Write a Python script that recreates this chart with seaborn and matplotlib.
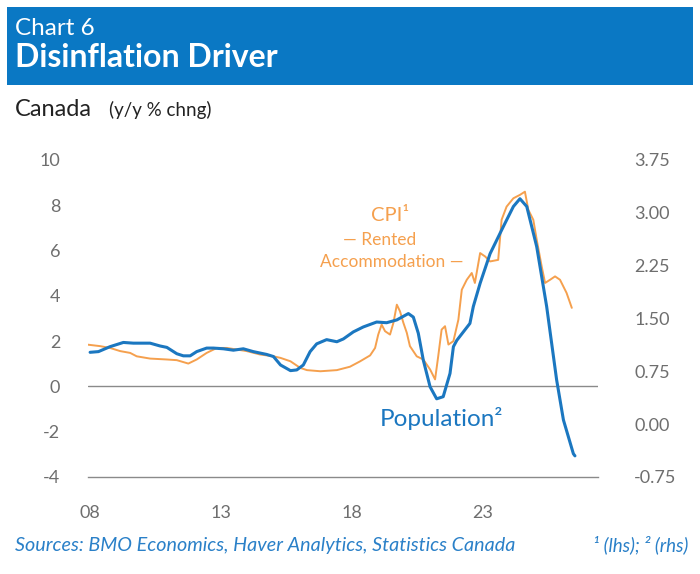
"""
Chart 6 - Disinflation Driver
Canada: CPI rented accommodation (lhs) vs population growth (rhs)
"""

import pandas as pd
import matplotlib
matplotlib.use('Agg')
import matplotlib.pyplot as plt
from matplotlib.patches import Rectangle
import seaborn as sns

# ---- data (y/y % chng) ----
cpi_years = [2007.87, 2008.38, 2008.76, 2009.15, 2009.53, 2009.78, 2010.29, 2010.93,
             2011.31, 2011.75, 2012.07, 2012.45, 2012.84, 2013.22, 2013.60, 2013.98,
             2014.49, 2015.00, 2015.27, 2015.65, 2016.02, 2016.28, 2016.79, 2017.42,
             2017.92, 2018.31, 2018.69, 2018.88, 2019.00, 2019.13, 2019.26, 2019.45,
             2019.58, 2019.71, 2019.83, 2019.96, 2020.09, 2020.21, 2020.47, 2020.72,
             2020.98, 2021.17, 2021.29, 2021.42, 2021.55, 2021.68, 2021.87, 2022.06,
             2022.19, 2022.38, 2022.57, 2022.69, 2022.89, 2023.08, 2023.27, 2023.58,
             2023.71, 2023.90, 2024.16, 2024.41, 2024.60, 2024.73, 2024.92, 2025.05,
             2025.24, 2025.37, 2025.56, 2025.75, 2025.94, 2026.19, 2026.39]
cpi_rent = [1.85, 1.78, 1.70, 1.56, 1.48, 1.33, 1.23, 1.19,
            1.16, 1.01, 1.19, 1.48, 1.70, 1.70, 1.63, 1.56,
            1.41, 1.33, 1.26, 1.11, 0.82, 0.72, 0.67, 0.72,
            0.87, 1.11, 1.37, 1.70, 2.29, 2.73, 2.44, 2.29,
            2.81, 3.61, 3.32, 2.81, 2.37, 1.78, 1.33, 1.19,
            0.75, 0.31, 1.33, 2.51, 2.66, 1.85, 2.00, 2.95,
            4.27, 4.71, 5.01, 4.57, 5.89, 5.74, 5.52, 5.59,
            7.36, 7.94, 8.31, 8.46, 8.60, 7.80, 7.36, 6.48,
            5.30, 4.57, 4.71, 4.86, 4.71, 4.13, 3.47]

pop_years = [2008.00, 2008.32, 2008.76, 2009.27, 2009.65, 2010.29, 2010.67, 2010.93,
             2011.31, 2011.56, 2011.82, 2012.07, 2012.45, 2012.71, 2013.09, 2013.47,
             2013.85, 2014.23, 2014.74, 2015.00, 2015.27, 2015.65, 2015.89, 2016.14,
             2016.40, 2016.65, 2017.03, 2017.42, 2017.67, 2018.05, 2018.43, 2018.94,
             2019.32, 2019.71, 2020.15, 2020.34, 2020.53, 2020.72, 2020.98, 2021.23,
             2021.48, 2021.74, 2021.87, 2022.00, 2022.50, 2022.63, 2022.89, 2023.27,
             2023.77, 2024.16, 2024.41, 2024.67, 2025.05, 2025.43, 2025.81, 2026.07,
             2026.45, 2026.51]
pop_growth = [1.02, 1.03, 1.10, 1.16, 1.15, 1.15, 1.11, 1.09,
              1.00, 0.97, 0.97, 1.03, 1.08, 1.08, 1.07, 1.05,
              1.07, 1.03, 0.99, 0.96, 0.84, 0.76, 0.77, 0.84,
              1.03, 1.14, 1.20, 1.17, 1.21, 1.31, 1.38, 1.45,
              1.44, 1.48, 1.57, 1.52, 1.29, 0.91, 0.53, 0.36,
              0.39, 0.72, 1.10, 1.19, 1.43, 1.67, 2.00, 2.42,
              2.80, 3.09, 3.20, 3.09, 2.52, 1.67, 0.63, 0.06,
              -0.42, -0.45]

x_ticks = [2008, 2013, 2018, 2023]
x_tick_labels = ['08', '13', '18', '23']
lhs_ticks = [-4, -2, 0, 2, 4, 6, 8, 10]
rhs_ticks = [-0.75, 0.00, 0.75, 1.50, 2.25, 3.00, 3.75]

ORANGE = '#f5a04e'
BLUE = '#1b77c0'
BANNER = '#0a78c4'
GREY = '#6e6e6e'
SOURCE_BLUE = '#2a80c8'

sns.set_style("white")
plt.rcParams['font.family'] = ['Lato', 'DejaVu Sans']

W, H = 700, 574
fig = plt.figure(figsize=(W / 100, H / 100), dpi=100)
fig.patch.set_facecolor('white')


def fx(px):
    return px / W


def fy(py):
    return 1 - py / H


# header banner
fig.patches.append(Rectangle((fx(7), fy(85)), fx(686), 78 / H, transform=fig.transFigure,
                             facecolor=BANNER, edgecolor='none', zorder=0))
fig.text(fx(15), fy(35), 'Chart 6', color='white', fontsize=17.5)
fig.text(fx(15), fy(67), 'Disinflation Driver', color='white', fontsize=23, fontweight='bold')
fig.text(fx(15), fy(116), 'Canada', color='#222222', fontsize=17)
fig.text(fx(109), fy(116), '(y/y % chng)', color='#222222', fontsize=13.5)

ax = fig.add_axes([fx(88), fy(477), fx(598 - 88), (477 - 160) / H])
ax2 = ax.twinx()

cpi_df = pd.DataFrame({'year': cpi_years, 'value': cpi_rent})
pop_df = pd.DataFrame({'year': pop_years, 'value': pop_growth})

ax.axhline(0, color='#8a8a8a', linewidth=1.0, zorder=1)
sns.lineplot(data=cpi_df, x='year', y='value', ax=ax, color=ORANGE, linewidth=1.4, zorder=2)
sns.lineplot(data=pop_df, x='year', y='value', ax=ax2, color=BLUE, linewidth=2.2, zorder=3)

ax.set_xlim(2007.92, 2027.39)
ax.set_ylim(-4, 10)
ax2.set_ylim(-0.75, 3.75)
ax.set_xticks(x_ticks)
ax.set_xticklabels(x_tick_labels)
ax.set_yticks(lhs_ticks)
ax.set_yticklabels([f'{v:g}' for v in lhs_ticks])
ax2.set_yticks(rhs_ticks)
ax2.set_yticklabels([f'{v:.2f}' for v in rhs_ticks])

for a in (ax, ax2):
    a.set_xlabel('')
    a.set_ylabel('')
    a.set_facecolor('none')
    for side in ('top', 'left', 'right', 'bottom'):
        a.spines[side].set_visible(False)
    a.grid(False)

ax.spines['bottom'].set_visible(True)
ax.spines['bottom'].set_color('#8a8a8a')
ax.spines['bottom'].set_linewidth(1.0)
ax.tick_params(axis='x', direction='in', length=6, width=1, color='#8a8a8a',
               pad=20, labelsize=13, labelcolor=GREY)
ax.tick_params(axis='y', length=0, pad=20, labelsize=13, labelcolor=GREY)
ax2.tick_params(axis='y', length=0, pad=26, labelsize=13, labelcolor=GREY)

# series labels
ax.text(2019.45, 7.55, 'CPI\u00b9', color=ORANGE, fontsize=14.5, ha='center', va='center')
ax.text(2019.07, 6.45, '\u2014 Rented', color=ORANGE, fontsize=12.5, ha='center', va='center')
ax.text(2019.53, 5.5, 'Accommodation \u2014', color=ORANGE, fontsize=12.5, ha='center', va='center')
ax.text(2021.4, -1.42, 'Population\u00b2', color=BLUE, fontsize=17.5, ha='center', va='center')

# footer
fig.text(fx(15), fy(551), 'Sources: BMO Economics, Haver Analytics, Statistics Canada',
         color=SOURCE_BLUE, fontsize=14.2, style='italic')
fig.text(fx(688), fy(551), '\u00b9 (lhs); \u00b2 (rhs)', color=SOURCE_BLUE, fontsize=13.5,
         style='italic', ha='right')

fig.savefig('out.png', dpi=100, facecolor='white')
